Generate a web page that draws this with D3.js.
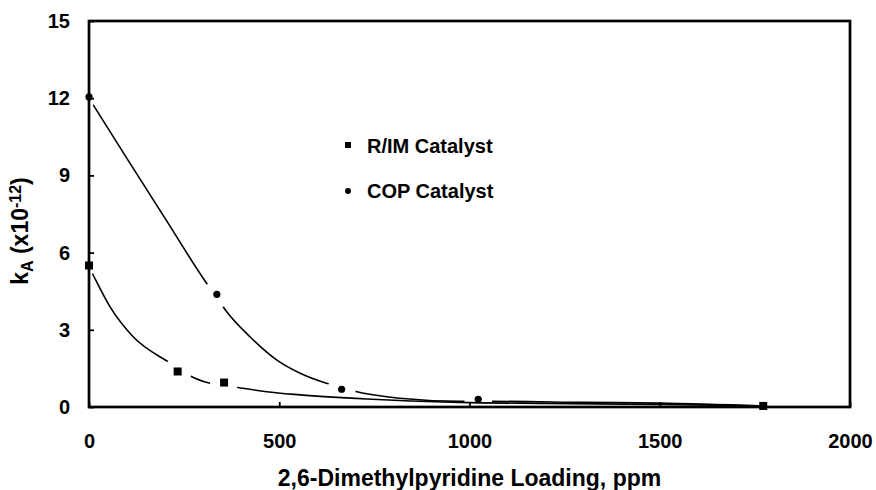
<!doctype html>
<html lang="en">
<head>
<meta charset="utf-8">
<title>kA vs 2,6-Dimethylpyridine Loading</title>
<script src="https://d3js.org/d3.v7.min.js"></script>
<style>
  body { margin: 0; background: #fff; }
  svg { display: block; font-family: "Liberation Sans", Arial, sans-serif; font-weight: bold; }
</style>
</head>
<body>
<svg id="chart" width="876" height="490"></svg>
<script>
// measured points
const rimX = [0, 233, 355, 1772];
const rimY = [5.5, 1.38, 0.95, 0.04];
const copX = [0, 336, 664, 1023];
const copY = [12.05, 4.38, 0.69, 0.30];

// smoothed trend lines
const rimCurveX = [0, 11, 55, 116, 208, 233, 254, 318, 353, 388, 467, 555, 730, 975, 1200, 1500, 1772];
const rimCurveY = [5.45, 5.13, 3.90, 2.73, 1.76, 1.53, 1.31, 0.92, 0.85, 0.77, 0.59, 0.47, 0.31, 0.18, 0.14, 0.10, 0.04];
const copCurveX = [0, 100, 200, 309, 336, 362, 423, 493, 555, 620, 664, 696, 817, 975, 1058, 1300, 1500, 1772];
const copCurveY = [12.0, 9.65, 7.33, 4.81, 4.25, 3.70, 2.73, 1.83, 1.31, 0.94, 0.76, 0.62, 0.34, 0.22, 0.22, 0.18, 0.15, 0.04];

const xTicks = [0, 500, 1000, 1500, 2000];
const yTicks = [0, 3, 6, 9, 12, 15];
const legendNames = ["R/IM Catalyst", "COP Catalyst"];

const width = 876, height = 490;
const margin = {top: 21, right: 26, bottom: 83, left: 89};
const w = width - margin.left - margin.right;
const h = height - margin.top - margin.bottom;

const svg = d3.select("#chart");
const g = svg.append("g").attr("transform", `translate(${margin.left},${margin.top})`);

const x = d3.scaleLinear().domain([0, 2000]).range([0, w]);
const y = d3.scaleLinear().domain([0, 15]).range([h, 0]);

const line = d3.line()
  .x(d => x(d[0]))
  .y(d => y(d[1]))
  .curve(d3.curveMonotoneX);

// gaps in the lines around the markers (one mask per series)
const defs = svg.append("defs");
function makeMask(id, xs, ys, lastOpen) {
  const m = defs.append("mask").attr("id", id).attr("maskUnits", "userSpaceOnUse")
    .attr("x", -margin.left).attr("y", -margin.top).attr("width", width).attr("height", height);
  m.append("rect").attr("x", -margin.left).attr("y", -margin.top)
    .attr("width", width).attr("height", height).attr("fill", "#fff");
  m.selectAll("circle").data(d3.zip(xs, ys)).enter().append("circle")
    .attr("cx", d => x(d[0])).attr("cy", d => y(d[1]))
    .attr("r", (d, i) => d[0] === 0 ? 9 : (lastOpen && i === xs.length - 1 ? 0 : 14))
    .attr("fill", "#000");
}
makeMask("gapRim", rimX, rimY, true);
makeMask("gapCop", copX, copY, false);

g.append("path")
  .datum(d3.zip(copCurveX, copCurveY))
  .attr("d", line)
  .attr("fill", "none").attr("stroke", "#000").attr("stroke-width", 1.6)
  .attr("mask", "url(#gapCop)");

g.append("path")
  .datum(d3.zip(rimCurveX, rimCurveY))
  .attr("d", line)
  .attr("fill", "none").attr("stroke", "#000").attr("stroke-width", 1.6)
  .attr("mask", "url(#gapRim)");

// axes, ticks pointing inward
const yAxis = g.append("g")
  .call(d3.axisLeft(y).tickValues(yTicks).tickFormat(d3.format("d"))
    .tickSizeInner(-5).tickSizeOuter(0).tickPadding(19));
const xAxis = g.append("g")
  .attr("transform", `translate(0,${h})`)
  .call(d3.axisBottom(x).tickValues(xTicks).tickFormat(d3.format("d"))
    .tickSizeInner(-5).tickSizeOuter(0).tickPadding(27));
[xAxis, yAxis].forEach(a => {
  a.attr("font-size", null).attr("font-family", null);
  a.select(".domain").remove();
  a.selectAll(".tick line").attr("stroke", "#000").attr("stroke-width", 1.8);
  a.selectAll(".tick text").attr("fill", "#000")
    .style("font-size", "20px").style("font-weight", "bold");
});

// frame
g.append("rect")
  .attr("x", 0).attr("y", 0).attr("width", w).attr("height", h)
  .attr("fill", "none").attr("stroke", "#000").attr("stroke-width", 2.7);

// markers
g.selectAll(".sq").data(d3.zip(rimX, rimY)).enter().append("rect")
  .attr("class", "sq")
  .attr("x", d => x(d[0]) - 4).attr("y", d => y(d[1]) - 4)
  .attr("width", 8).attr("height", 8).attr("fill", "#000");
g.selectAll(".dot").data(d3.zip(copX, copY)).enter().append("circle")
  .attr("class", "dot")
  .attr("cx", d => x(d[0])).attr("cy", d => y(d[1]))
  .attr("r", 3.6).attr("fill", "#000");

// legend
const leg = svg.append("g").attr("transform", "translate(348,145)");
leg.append("rect").attr("x", -3).attr("y", -3).attr("width", 6).attr("height", 6).attr("fill", "#000");
leg.append("circle").attr("cx", 0).attr("cy", 46).attr("r", 3).attr("fill", "#000");
leg.selectAll("text").data(legendNames).enter().append("text")
  .attr("x", 19).attr("y", (d, i) => 8 + i * 45)
  .style("font-size", "20px")
  .text(d => d);

// axis titles
svg.append("text")
  .attr("x", margin.left + w / 2).attr("y", 486)
  .attr("text-anchor", "middle")
  .style("font-size", "23px")
  .text("2,6-Dimethylpyridine Loading, ppm");

const yt = svg.append("text")
  .attr("transform", "translate(28,231) rotate(-90)")
  .attr("text-anchor", "middle")
  .style("font-size", "23px");
yt.append("tspan").text("k");
yt.append("tspan").attr("dy", 5).style("font-size", "16px").text("A");
yt.append("tspan").attr("dy", -5).text(" (x10");
yt.append("tspan").attr("dy", -7).style("font-size", "16px").text("-12");
yt.append("tspan").attr("dy", 7).text(")");
</script>
</body>
</html>
